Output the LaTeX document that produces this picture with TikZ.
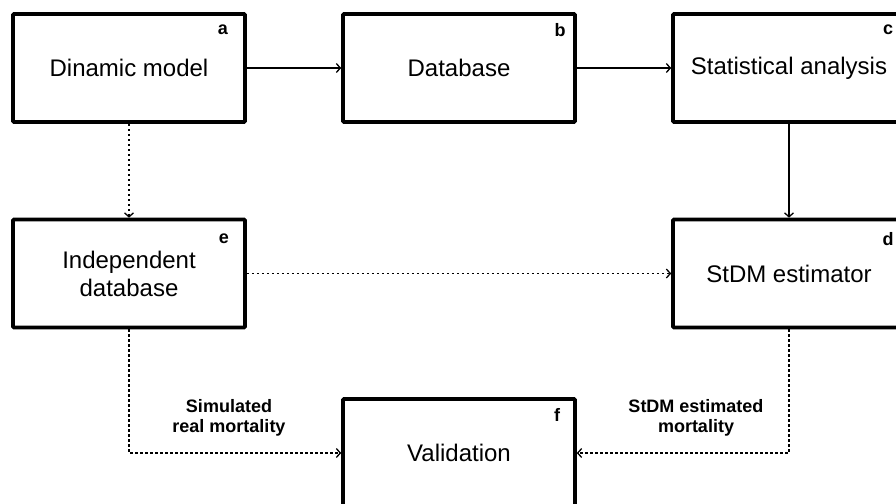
\documentclass[tikz,border=0pt]{standalone}
\usepackage{fontspec}
\setmainfont{Liberation Sans}
\usetikzlibrary{arrows.meta}
\begin{document}
\begin{tikzpicture}[x=1pt,y=-1pt,
  box/.style={draw, line width=3.6pt, rounded corners=1pt, minimum width=232pt, minimum height=108pt, align=center, inner sep=0pt, font=\fontsize{24}{28}\selectfont},
  tag/.style={font=\bfseries\fontsize{18}{20}\selectfont, inner sep=0pt},
  lbl/.style={font=\bfseries\fontsize{18}{20}\selectfont, align=center, inner sep=0pt},
  solidarrow/.style={line width=1.3pt, -{Straight Barb[length=4pt,width=9pt,line width=1.3pt]}},
  dotarrow/.style={line width=1.8pt, dash pattern=on 2.6pt off 2.4pt, -{Straight Barb[length=4pt,width=9pt,line width=1.3pt]}}
]
\useasboundingbox (0,0) rectangle (896,503);
\node[box] (a) at (129,68) {Dinamic model};
\node[box] (b) at (459,68) {Database};
\node[box] (c) at (789,68) {Statistical analysis};
\node[box] (e) at (129,273.5) {Independent\\database};
\node[box] (d) at (789,273.5) {StDM estimator};
\node[box] (f) at (459,453) {Validation};
\node[tag] (ta) at (223,30) {a};
\node[tag] (tb) at (560,30) {b};
\node[tag] (tc) at (888,30) {c};
\node[tag] (te) at (224,239) {e};
\node[tag] (td) at (888,239) {d};
\node[tag] (tf) at (557,415) {f};
\draw[solidarrow] (a.east) -- (b.west);
\draw[solidarrow] (b.east) -- (c.west);
\draw[solidarrow] (c.south) -- (d.north);
\draw[dotarrow] (a.south) -- (e.north);
\draw[dotarrow] (e.east) -- (d.west);
\draw[dotarrow] (e.south) |- (f.west);
\draw[dotarrow] (d.south) |- (f.east);
\node[lbl] (l1) at (229,418) {Simulated\\real mortality};
\node[lbl] (l2) at (696,418) {StDM estimated\\mortality};
\end{tikzpicture}
\end{document}
